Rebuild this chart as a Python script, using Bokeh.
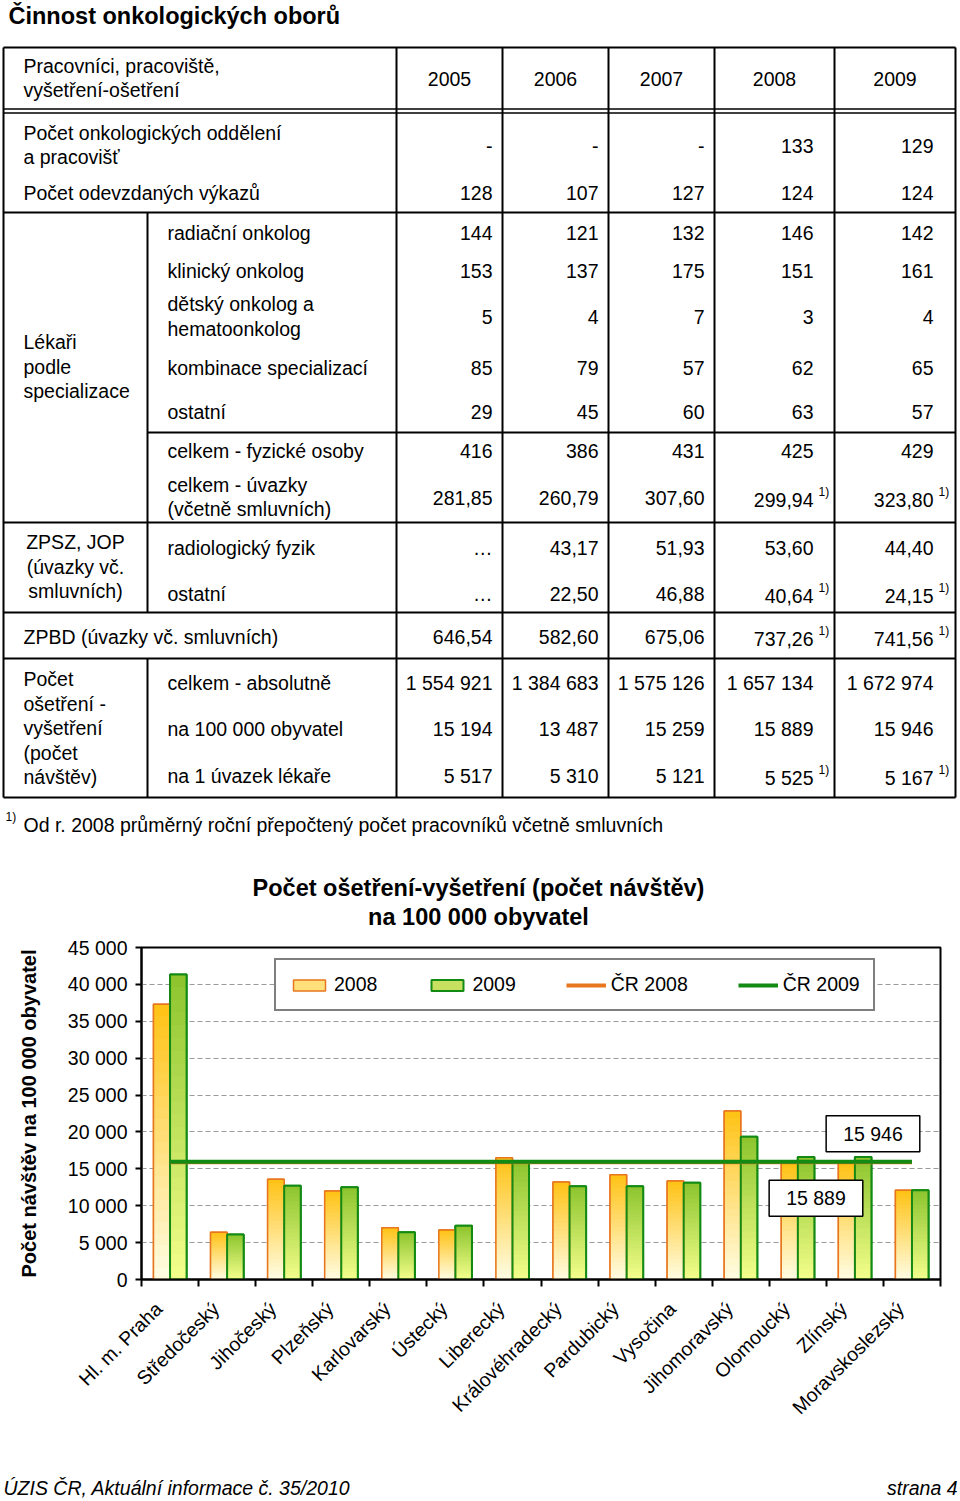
import math
from bokeh.plotting import figure
from bokeh.layouts import column
from bokeh.models import Range1d, FixedTicker, Legend, LegendItem, Label
from bokeh.core.properties import value
from bokeh.embed import file_html
from bokeh.resources import INLINE

FONT = "Liberation Sans"

# ---------------- data ----------------
page_title = "Činnost onkologických oborů"
years = ["2005", "2006", "2007", "2008", "2009"]
header_label = ["Pracovníci, pracoviště,", "vyšetření-ošetření"]

oddeleni = ["-", "-", "-", "133", "129"]
vykazy = ["128", "107", "127", "124", "124"]
radiacni_onkolog = ["144", "121", "132", "146", "142"]
klinicky_onkolog = ["153", "137", "175", "151", "161"]
detsky_onkolog = ["5", "4", "7", "3", "4"]
kombinace = ["85", "79", "57", "62", "65"]
ostatni_lekari = ["29", "45", "60", "63", "57"]
celkem_fyzicke = ["416", "386", "431", "425", "429"]
celkem_uvazky = ["281,85", "260,79", "307,60", "299,94", "323,80"]
radiologicky_fyzik = ["…", "43,17", "51,93", "53,60", "44,40"]
zpsz_ostatni = ["…", "22,50", "46,88", "40,64", "24,15"]
zpbd = ["646,54", "582,60", "675,06", "737,26", "741,56"]
osetreni_celkem = ["1 554 921", "1 384 683", "1 575 126", "1 657 134", "1 672 974"]
osetreni_100k = ["15 194", "13 487", "15 259", "15 889", "15 946"]
osetreni_uvazek = ["5 517", "5 310", "5 121", "5 525", "5 167"]
footnote_years = ["2008", "2009"]
footnote_mark = "1)"
footnote_text = "Od r. 2008 průměrný roční přepočtený počet pracovníků včetně smluvních"

chart_title = ["Počet ošetření-vyšetření (počet návštěv)", "na 100 000 obyvatel"]
regions = ["Hl. m. Praha", "Středočeský", "Jihočeský", "Plzeňský", "Karlovarský",
           "Ústecký", "Liberecký", "Královéhradecký", "Pardubický", "Vysočina",
           "Jihomoravský", "Olomoucký", "Zlínský", "Moravskoslezský"]
visits_2008 = [37300, 6400, 13600, 12000, 7000, 6700, 16500, 13200, 14200, 13350,
               22850, 15800, 15850, 12100]
visits_2009 = [41350, 6100, 12700, 12500, 6400, 7300, 15900, 12650, 12650, 13100,
               19350, 16600, 16600, 12100]
cr_2008 = 15889
cr_2009 = 15946
series_names = ["2008", "2009", "ČR 2008", "ČR 2009"]
y_ticks = [0, 5000, 10000, 15000, 20000, 25000, 30000, 35000, 40000, 45000]
y_tick_labels = ["0", "5 000", "10 000", "15 000", "20 000", "25 000", "30 000",
                 "35 000", "40 000", "45 000"]
y_axis_title = "Počet návštěv na 100 000 obyvatel"
footer_left = "ÚZIS ČR, Aktuální informace č. 35/2010"
footer_right = "strana 4"

# ---------------- helpers ----------------
W = 960
TS = "19.5px"


def txt(fig, xs, ys, texts, size=TS, align="left", style="normal", baseline="middle"):
    fig.text(x=xs, y=ys, text=texts, text_font=value(FONT), text_font_size=value(size),
             text_align=align, text_baseline=baseline, text_font_style=style,
             text_color="black")


def blank(width, height, y_top):
    # data coordinates equal page pixels
    f = figure(width=width, height=height, x_range=Range1d(0, width),
               y_range=Range1d(y_top + height, y_top), output_backend="svg",
               toolbar_location=None, min_border=0, x_axis_location=None,
               y_axis_location=None, title=None, frame_align=False)
    f.grid.visible = False
    f.outline_line_color = None
    f.background_fill_color = "white"
    f.border_fill_color = "white"
    return f


# ---------------- table ----------------
H_TOP = 930
top = blank(W, H_TOP, 0)

txt(top, [8], [15], [page_title], size="23.5px", style="bold")

XL, XR, XI = 3, 955, 147
col_edges = [396, 502, 608, 714, 834]
col_right = [492, 598, 704, 813, 933]
col_center = [(a + b) / 2 for a, b in zip(col_edges, col_edges[1:] + [XR])]

h_full = [47, 212, 522, 612, 658, 797]
top.segment(x0=[XL] * len(h_full) + [XI], y0=h_full + [432],
            x1=[XR] * len(h_full) + [XR], y1=h_full + [432],
            line_color="black", line_width=2)
top.segment(x0=[XL, XL], y0=[108.5, 112.5], x1=[XR, XR], y1=[108.5, 112.5],
            line_color="black", line_width=1.6)
vx = [XL, XR] + col_edges
top.segment(x0=vx, y0=[47] * len(vx), x1=vx, y1=[797] * len(vx),
            line_color="black", line_width=2)
top.segment(x0=[XI, XI], y0=[212, 658], x1=[XI, XI], y1=[612, 797],
            line_color="black", line_width=2)

# header
txt(top, [23, 23], [65, 89], header_label)
txt(top, col_center, [78] * len(years), years, align="center")

# row labels
lab_x, lab_y, lab_t = [], [], []
for x, y, t in [
    (23, 132, "Počet onkologických oddělení"), (23, 156, "a pracovišť"),
    (23, 192, "Počet odevzdaných výkazů"),
    (167, 232, "radiační onkolog"), (167, 270, "klinický onkolog"),
    (167, 303, "dětský onkolog a"), (167, 328, "hematoonkolog"),
    (167, 367, "kombinace specializací"), (167, 411, "ostatní"),
    (167, 450, "celkem - fyzické osoby"), (167, 484, "celkem - úvazky"),
    (167, 508, "(včetně smluvních)"),
    (23, 341, "Lékaři"), (23, 366, "podle"), (23, 390, "specializace"),
    (167, 547, "radiologický fyzik"), (167, 593, "ostatní"),
    (23, 636, "ZPBD (úvazky vč. smluvních)"),
    (23, 678, "Počet"), (23, 703, "ošetření -"), (23, 727, "vyšetření"),
    (23, 752, "(počet"), (23, 776, "návštěv)"),
    (167, 682, "celkem - absolutně"), (167, 728, "na 100 000 obyvatel"),
    (167, 775, "na 1 úvazek lékaře"),
]:
    lab_x.append(x)
    lab_y.append(y)
    lab_t.append(t)
txt(top, lab_x, lab_y, lab_t)
txt(top, [75, 75, 75], [541, 566, 590], ["ZPSZ, JOP", "(úvazky vč.", "smluvních)"],
    align="center")

# values
rows = [
    (oddeleni, 145, False), (vykazy, 192, False),
    (radiacni_onkolog, 232, False), (klinicky_onkolog, 270, False),
    (detsky_onkolog, 316, False), (kombinace, 367, False),
    (ostatni_lekari, 411, False), (celkem_fyzicke, 450, False),
    (celkem_uvazky, 497, True), (radiologicky_fyzik, 547, False),
    (zpsz_ostatni, 593, True), (zpbd, 636, True),
    (osetreni_celkem, 682, False), (osetreni_100k, 728, False),
    (osetreni_uvazek, 775, True),
]
vx_, vy_, vt_ = [], [], []
fx_, fy_, ft_ = [], [], []
for vals, y, fn in rows:
    for j, v in enumerate(vals):
        vx_.append(col_right[j])
        vy_.append(y + (2 if fn and years[j] in footnote_years else 0))
        vt_.append(v)
        if fn and years[j] in footnote_years:
            fx_.append(col_right[j] + 5)
            fy_.append(y - 6)
            ft_.append(footnote_mark)
txt(top, vx_, vy_, vt_, align="right")
txt(top, fx_, fy_, ft_, size="12px")

# footnote
txt(top, [5], [816], [footnote_mark], size="12px")
txt(top, [23], [824], [footnote_text])

# chart title
txt(top, [478, 478], [887, 916], chart_title, size="23.5px", align="center", style="bold")

# ---------------- chart ----------------
CH_TOP = 930
H_CH = 530
n = len(regions)
ch = figure(width=W, height=H_CH, x_range=Range1d(0.5, n + 0.5),
            y_range=Range1d(0, y_ticks[-1]), output_backend="svg",
            toolbar_location=None, title=None, frame_align=False,
            min_border_left=141, min_border_right=W - 940,
            min_border_top=947 - CH_TOP, min_border_bottom=CH_TOP + H_CH - 1279)
ch.background_fill_color = "white"
ch.border_fill_color = "white"
ch.outline_line_color = "black"
ch.outline_line_width = 2
ch.xgrid.visible = False
ch.ygrid.grid_line_color = "#9a9a9a"
ch.ygrid.grid_line_dash = "5 3"
ch.ygrid.grid_line_width = 1

ch.yaxis.ticker = FixedTicker(ticks=y_ticks)
ch.yaxis.major_label_overrides = {t: l for t, l in zip(y_ticks, y_tick_labels)}
ch.yaxis.minor_tick_line_color = None
ch.yaxis.major_tick_in = 0
ch.yaxis.major_tick_out = 6
ch.yaxis.major_tick_line_width = 2
ch.yaxis.axis_line_width = 2
ch.yaxis.major_label_standoff = 8
ch.yaxis.major_label_text_font = FONT
ch.yaxis.major_label_text_font_size = "19.5px"
ch.yaxis.major_label_text_color = "black"
ch.yaxis.axis_label = y_axis_title
ch.yaxis.axis_label_text_font = FONT
ch.yaxis.axis_label_text_font_size = "20px"
ch.yaxis.axis_label_text_font_style = "bold"
ch.yaxis.axis_label_text_color = "black"
ch.yaxis.axis_label_standoff = 25

xs = list(range(1, n + 1))
# label anchors sit slightly left of the category centres, as in the original
LABEL_SHIFT = 0.2
label_pos = [round(x - LABEL_SHIFT, 2) for x in xs]
ch.xaxis.ticker = FixedTicker(ticks=label_pos,
                              minor_ticks=[x - 0.5 for x in xs] + [n + 0.5])
ch.xaxis.major_label_overrides = {p: r for p, r in zip(label_pos, regions)}
ch.xaxis.major_tick_line_color = None
ch.xaxis.major_tick_out = 0
ch.xaxis.major_tick_in = 0
ch.xaxis.minor_tick_in = 0
ch.xaxis.minor_tick_out = 7
ch.xaxis.minor_tick_line_width = 2
ch.xaxis.minor_tick_line_color = "black"
ch.xaxis.axis_line_width = 2
ch.xaxis.major_label_orientation = math.pi / 4
ch.xaxis.major_label_standoff = 19
ch.xaxis.major_label_text_font = FONT
ch.xaxis.major_label_text_font_size = "19.5px"
ch.xaxis.major_label_text_color = "black"

BW = 0.29
x08 = [x - BW / 2 for x in xs]
x09 = [x + BW / 2 for x in xs]


def mix(c0, c1, f):
    return "#%02x%02x%02x" % tuple(int(round(a + (b - a) * f)) for a, b in zip(c0, c1))


def gradient_bars(fig, centers, vals, bottom_rgb, top_rgb, steps=24):
    L, R, T, B, C = [], [], [], [], []
    for k in range(steps):
        frac_top = (steps - k) / steps
        col = mix(bottom_rgb, top_rgb, (steps - k - 0.5) / steps)
        for c, v in zip(centers, vals):
            L.append(c - BW / 2)
            R.append(c + BW / 2)
            T.append(v * frac_top)
            B.append(0)
            C.append(col)
    fig.quad(left=L, right=R, top=T, bottom=B, fill_color=C, line_color=None)


base08 = ch.vbar(x=x08, top=visits_2008, width=BW, fill_color="#ffe07a",
                 line_color="#e8761e", line_width=1.5)
base09 = ch.vbar(x=x09, top=visits_2009, width=BW, fill_color="#c8e060",
                 line_color="#138a13", line_width=2)
gradient_bars(ch, x08, visits_2008, (255, 253, 228), (255, 194, 20))
gradient_bars(ch, x09, visits_2009, (244, 255, 140), (140, 196, 45))
ch.vbar(x=x08, top=visits_2008, width=BW, fill_color=None,
        line_color="#e8761e", line_width=1.5)
ch.vbar(x=x09, top=visits_2009, width=BW, fill_color=None,
        line_color="#138a13", line_width=2)

l08 = ch.line(x=[xs[0], xs[-1]], y=[cr_2008, cr_2008], line_color="#e8761e", line_width=4)
l09 = ch.line(x=[xs[0], xs[-1]], y=[cr_2009, cr_2009], line_color="#138a13", line_width=4)


def fmt(v):
    return f"{v:,}".replace(",", " ")


for val, dx, dy in [(cr_2009, -39, 28), (cr_2008, -96, -36)]:
    ch.add_layout(Label(x=xs[-1], y=val, text=fmt(val), x_offset=dx, y_offset=dy,
                        text_align="center", text_baseline="middle",
                        text_font=FONT, text_font_size="19.5px", text_color="black",
                        background_fill_color="white", border_line_color="black",
                        border_line_width=1.5, padding=(17, 7)))

legend = Legend(items=[LegendItem(label=series_names[0], renderers=[base08]),
                       LegendItem(label=series_names[1], renderers=[base09]),
                       LegendItem(label=series_names[2], renderers=[l08]),
                       LegendItem(label=series_names[3], renderers=[l09])],
                location=(133, 268), orientation="horizontal",
                glyph_width=40, glyph_height=14, label_height=20,
                label_standoff=5, spacing=50, padding=13, margin=0,
                label_text_font=FONT, label_text_font_size="19.5px",
                label_text_color="black",
                border_line_color="black", border_line_width=2,
                background_fill_color="white", background_fill_alpha=1)
ch.add_layout(legend)

# ---------------- footer ----------------
FT_TOP = CH_TOP + H_CH
H_FT = 38
foot = blank(W, H_FT, FT_TOP)
txt(foot, [3], [1487], [footer_left], style="italic")
txt(foot, [957], [1487], [footer_right], align="right", style="italic")

page = column(top, ch, foot, spacing=0)

open("out.html", "w").write(file_html(page, INLINE))
